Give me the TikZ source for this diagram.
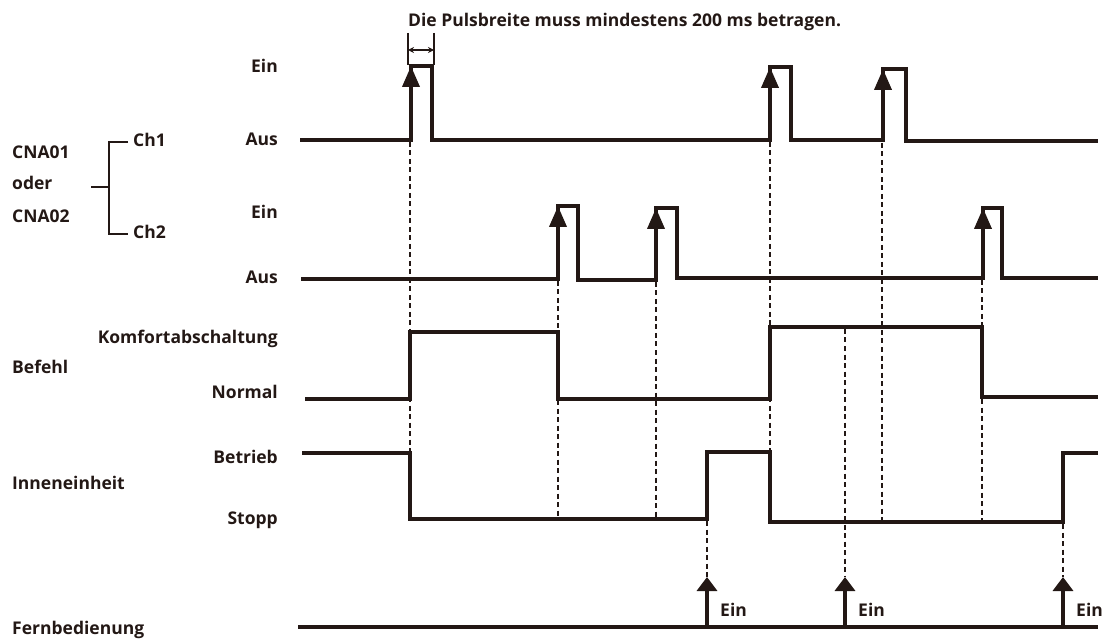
\documentclass[tikz,border=0pt]{standalone}
\usepackage{fontspec}
\setmainfont{Open Sans}
\usetikzlibrary{arrows.meta}
\definecolor{ink}{RGB}{35,24,21}

\begin{document}
\begin{tikzpicture}[
        x=1pt, y=-1pt,
        every node/.style={font=\fontsize{17.5}{21}\selectfont\bfseries\strut, inner sep=0pt, text=ink},
        wave/.style={draw=ink, line width=3.8pt, line join=miter},
        guide/.style={draw=ink, line width=1.4pt, dash pattern=on 5pt off 3.5pt},
        pulse/.style={draw=ink, fill=ink, line width=3.8pt, -{Triangle[width=17pt,length=21pt]}},
        remote/.style={draw=ink, fill=ink, line width=3.8pt, -{Triangle[width=20pt,length=14pt]}},
        thinline/.style={draw=ink, line width=1.3pt}
    ]
	\useasboundingbox (0,0) rectangle (1104,639);
	\node[anchor=west] (title) at (408,22) {Die Pulsbreite muss mindestens 200 ms betragen.};
	\draw[thinline] (408,33) -- (408,65) (434,33) -- (434,65);
	\draw[thinline, {Stealth[length=6pt,width=6pt]}-{Stealth[length=6pt,width=6pt]}] (408,50) -- (434,50);
	\foreach \y/\t [count=\i] in {68/Ein, 141/Aus, 214/Ein, 279/Aus, 339/Komfortabschaltung, 394/Normal, 459/Betrieb, 520/Stopp}
		{
		   \node[anchor=east] (lvl\i) at (278,\y) {\t};
		};
	\foreach \y/\t/\n in {154/CNA01/cnaa, 185/oder/oder, 218/CNA02/cnab, 369/Befehl/befehl, 485/Inneneinheit/innen, 630/Fernbedienung/fern}
		{
		   \node[anchor=west] (\n) at (12,\y) {\t};
		};
	\node[anchor=west] (ch1) at (133,142) {Ch1};
	\node[anchor=west] (ch2) at (133,234) {Ch2};
	\draw[thinline] ([xshift=-5pt]ch1.west) -- ++(-19,0) |- ([xshift=-5pt]ch2.west);
	\draw[thinline] (109,187) -- ++(-18,0);
	\draw[wave] (300,140) -- (411,140) -- (411,66) -- (432,66) -- (432,140) -- (770,140) -- (770,67) -- (791,67)
		-- (791,140) -- (883,140) -- (883,69) -- (906,69) -- (906,141) -- (1098,141);
	\draw[wave] (301,279) -- (558,279) -- (558,206) -- (578,206) -- (578,280) -- (656,280) -- (656,208) -- (677,208)
		-- (677,278) -- (983,278) -- (983,208) -- (1002,208) -- (1002,278) -- (1098,278);
	\draw[wave] (305,399) -- (410,399) -- (410,332) -- (558,332) -- (558,399) -- (770,399) -- (770,327) -- (982,327)
		-- (982,397) -- (1098,397);
	\draw[wave] (302,453) -- (410,453) -- (410,519) -- (707,519) -- (707,452) -- (770,452) -- (770,522) -- (1063,522)
		-- (1063,453) -- (1098,453);
	\draw[wave] (298,627) -- (1098,627);
	\foreach \x/\a/\b in {411/140/66, 770/140/67, 883/140/69, 558/279/206, 656/280/208, 983/278/208}
		{
		   \draw[pulse] (\x,\a) -- (\x,\b);
		};
	\foreach \x in {707, 845, 1063}
		{
		   \draw[remote] (\x,627) -- (\x,577);
		   \node[anchor=west] (ein\x) at (\x+13,612) {Ein};
		};
	\foreach \x/\a/\b in {410/142/453, 558/281/519, 656/282/519, 707/521/577, 770/142/452, 845/329/577, 882/143/522, 982/280/522, 1063/524/577}
		{
		   \draw[guide] (\x,\a) -- (\x,\b);
		};
\end{tikzpicture}
\end{document}
